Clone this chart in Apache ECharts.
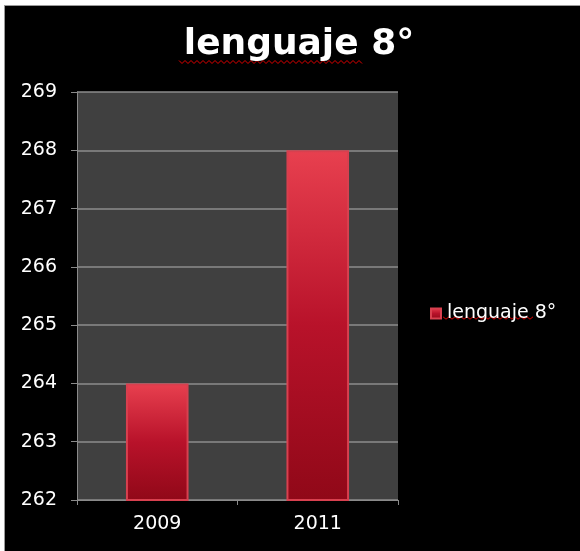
<!DOCTYPE html>
<html>
<head>
<meta charset="utf-8">
<script src="https://cdn.jsdelivr.net/npm/echarts@6/dist/echarts.min.js"></script>
<style>
html,body{margin:0;padding:0;background:#fff;width:580px;height:551px;overflow:hidden;}
#bg{position:absolute;left:4px;top:5px;width:576px;height:546px;background:#000;border-left:1px solid #9a9a9a;border-top:1px solid #9a9a9a;box-sizing:border-box;}
#chart{position:absolute;left:0;top:0;width:580px;height:551px;}
</style>
</head>
<body>
<div id="bg"></div>
<div id="chart"></div>
<script>
const titleText = 'lenguaje 8°';
const seriesName = 'lenguaje 8°';
const categories = ['2009', '2011'];
const values = [264, 268];
const yMin = 262, yMax = 269, yStep = 1;

function squiggle(x0, x1, y, amp, step) {
  const pts = [];
  let up = true;
  for (let x = x0; x <= x1; x += step) { pts.push([x, up ? y - amp : y + amp]); up = !up; }
  return pts;
}

const chart = echarts.init(document.getElementById('chart'), null, {renderer: 'canvas'});
chart.setOption({
  backgroundColor: 'transparent',
  animation: false,
  title: {
    text: titleText,
    left: 294, top: 22, textAlign: 'center',
    textStyle: {color: '#ffffff', fontFamily: 'DejaVu Sans', fontWeight: 'bold', fontSize: 36}
  },
  legend: {
    data: [seriesName],
    left: 425, top: 299,
    icon: 'rect', itemWidth: 10, itemHeight: 10, itemGap: 5,
    textStyle: {color: '#ffffff', fontFamily: 'DejaVu Sans', fontSize: 19, padding: [0, 0, 0, 1]}
  },
  grid: {
    left: 77, right: 182, top: 92, bottom: 51,
    show: true, backgroundColor: '#404040', borderWidth: 0
  },
  xAxis: {
    type: 'category', data: categories,
    axisLine: {show: true, lineStyle: {color: '#8a8a8a', width: 1}},
    axisTick: {show: true, length: 5, lineStyle: {color: '#8a8a8a'}},
    axisLabel: {color: '#ffffff', fontFamily: 'DejaVu Sans', fontSize: 19, margin: 15}
  },
  yAxis: {
    type: 'value', min: yMin, max: yMax, interval: yStep,
    axisLine: {show: true, lineStyle: {color: '#8a8a8a', width: 1}},
    axisTick: {show: true, length: 6, lineStyle: {color: '#8a8a8a'}},
    axisLabel: {color: '#ffffff', fontFamily: 'DejaVu Sans', fontSize: 19, margin: 20},
    splitLine: {show: true, lineStyle: {color: '#8c8c8c', width: 1.5}}
  },
  series: [{
    name: seriesName, type: 'bar', data: values, barWidth: '39%',
    itemStyle: {
      color: new echarts.graphic.LinearGradient(0, 0, 0, 1, [
        {offset: 0, color: '#e8404f'},
        {offset: 0.5, color: '#b8122a'},
        {offset: 1, color: '#900818'}
      ]),
      borderColor: '#d8404f', borderWidth: 2
    }
  }],
  graphic: [
    {type: 'polyline', shape: {points: squiggle(179, 362, 62, 1.5, 3)}, style: {stroke: '#e00000', lineWidth: 1, fill: null}, silent: true},
    {type: 'polyline', shape: {points: squiggle(443, 533, 318, 1.2, 3)}, style: {stroke: '#e00000', lineWidth: 1, fill: null}, silent: true}
  ]
});
</script>
</body>
</html>
